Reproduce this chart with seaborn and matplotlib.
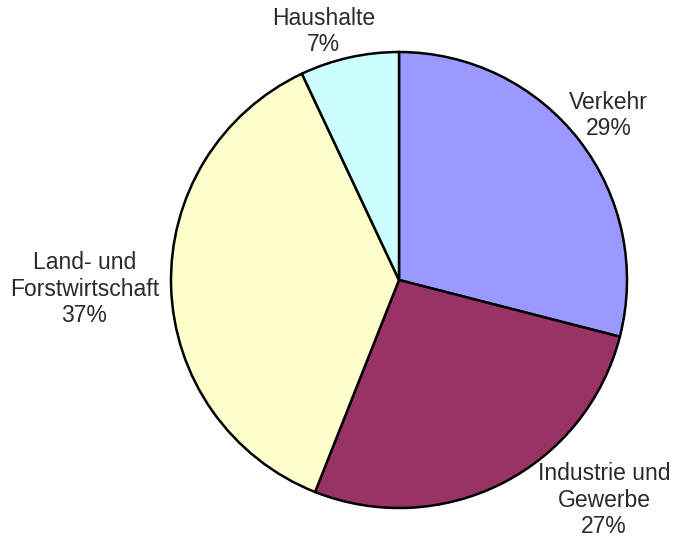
import matplotlib
matplotlib.use("Agg")
import matplotlib.pyplot as plt
import seaborn as sns

categories = ["Verkehr", "Industrie und\nGewerbe", "Land- und\nForstwirtschaft", "Haushalte"]
values = [29, 27, 37, 7]
colors = ["#9999FF", "#993366", "#FFFFCC", "#CCFFFF"]

sns.set_style("white")
plt.rcParams["font.family"] = ["Liberation Sans", "DejaVu Sans"]

fig = plt.figure(figsize=(6.73, 5.40), dpi=100)
ax = fig.add_axes([0, 0, 1, 1])
labels = [f"{c}\n{v}%" for c, v in zip(categories, values)]
wedges, texts = ax.pie(values, labels=labels, colors=colors, startangle=90,
                       counterclock=False,
                       wedgeprops=dict(edgecolor="black", linewidth=1.8),
                       textprops=dict(fontsize=16.5, color="#2a2a2a", ha="center", va="center",
                                      linespacing=1.18))
label_pos = [(0.92, 0.72), (0.90, -0.965), (-1.38, -0.04), (-0.33, 1.09)]
for t, p in zip(texts, label_pos):
    t.set_position(p)
    t.set_horizontalalignment("center")
    t.set_verticalalignment("center")
ax.set_aspect("equal")
ax.set_xlim(-399 / 228, 274 / 228)
ax.set_ylim(-260 / 228, 280 / 228)
ax.axis("off")
fig.savefig("out.png", dpi=100, facecolor="white")
